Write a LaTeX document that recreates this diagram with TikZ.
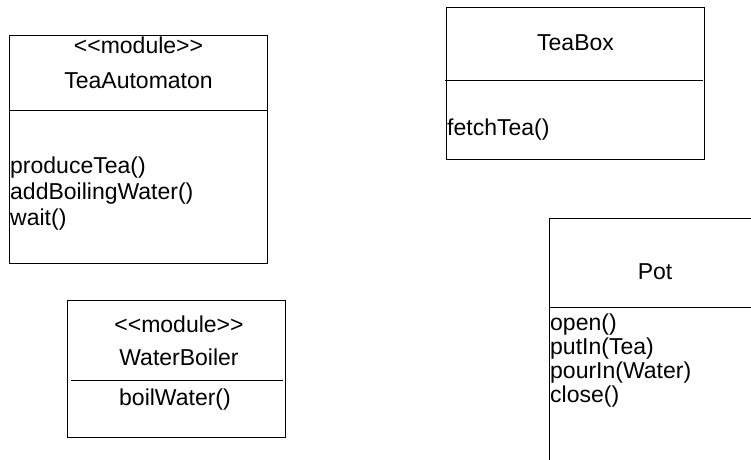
\documentclass[tikz,border=0pt]{standalone}
\usepackage{fontspec}
\setmainfont{Liberation Sans}
\begin{document}
\begin{tikzpicture}[x=1pt,y=-1pt,
  classbox/.style={draw=black,line width=1pt},
  divider/.style={draw=black,line width=1pt},
  lbl/.style={inner sep=0pt,font=\fontsize{23}{26}\selectfont,anchor=base},
  op/.style={inner sep=0pt,font=\fontsize{23}{26}\selectfont,anchor=base west}]
\useasboundingbox (0,0) rectangle (751,459);
\clip (0,0) rectangle (751,459);

% TeaAutomaton module
\draw[classbox] (9.5,35.5) rectangle (267.5,263.5);
\draw[divider] (9.5,110.5) -- (267.5,110.5);
\node[lbl] (taStereo) at (138.5,53) {<{}<module>{}>};
\node[lbl] (taName) at (138.5,88) {TeaAutomaton};
\node[op] (taOp1) at (10,173) {produceTea()};
\node[op] (taOp2) at (10,199) {addBoilingWater()};
\node[op] (taOp3) at (10,225) {wait()};

% TeaBox class
\draw[classbox] (446.5,7.5) rectangle (704.5,159.5);
\draw[divider] (445,80.5) -- (703,80.5);
\node[lbl] (tbName) at (575.5,50) {TeaBox};
\node[op] (tbOp1) at (447,135) {fetchTea()};

% Pot class
\draw[classbox] (549.5,218.5) rectangle (761,470);
\draw[divider] (549.5,307.5) -- (761,307.5);
\node[lbl] (potName) at (655,279) {Pot};
\node[op] (potOp1) at (550,330) {open()};
\node[op] (potOp2) at (550,354) {putIn(Tea)};
\node[op] (potOp3) at (550,378) {pourIn(Water)};
\node[op] (potOp4) at (550,402) {close()};

% WaterBoiler module
\draw[classbox] (67.5,300.5) rectangle (285.5,437.5);
\draw[divider] (71,380.5) -- (283,380.5);
\node[lbl] (wbStereo) at (179,332) {<{}<module>{}>};
\node[lbl] (wbName) at (179,365) {WaterBoiler};
\node[lbl] (wbOp1) at (175,405) {boilWater()};
\end{tikzpicture}
\end{document}
